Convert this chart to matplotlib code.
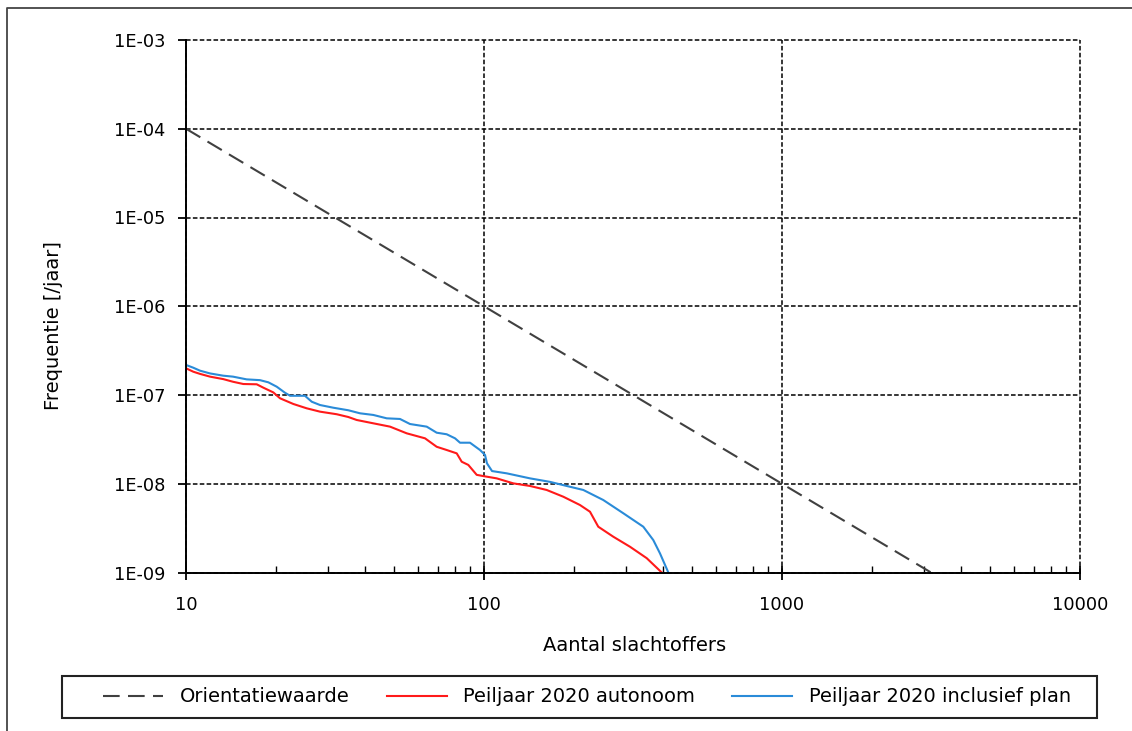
import matplotlib
matplotlib.use("Agg")
import matplotlib.pyplot as plt
import matplotlib.ticker as mticker
from matplotlib.lines import Line2D
from matplotlib.patches import Rectangle
import numpy as np

# Orientatiewaarde: F = 1e-2 / N^2
orient_n = [10, 10000]
orient_f = [1e-4, 1e-10]

# Peiljaar 2020 autonoom
auto_n = [10, 10.58, 11.14, 12.04, 13.34, 14.38, 15.57, 17.27, 18.17, 19.63,
          20.68, 22.92, 25.41, 28.17, 32.05, 35.05, 37.39, 41.44, 48.38, 55.03,
          63.39, 69.38, 74.96, 80.99, 84.19, 88.58, 94.52, 99.47, 110.3, 125.4,
          142.7, 162.3, 184.6, 209.9, 226.8, 241.8, 271.6, 309.0, 351.6, 394.8]
auto_f = [2.0e-7, 1.83e-7, 1.73e-7, 1.61e-7, 1.51e-7, 1.41e-7, 1.33e-7, 1.32e-7, 1.21e-7, 1.07e-7,
          9.18e-8, 7.92e-8, 7.08e-8, 6.49e-8, 6.07e-8, 5.65e-8, 5.23e-8, 4.88e-8, 4.40e-8, 3.70e-8,
          3.25e-8, 2.61e-8, 2.40e-8, 2.20e-8, 1.77e-8, 1.63e-8, 1.26e-8, 1.22e-8, 1.15e-8, 1.01e-8,
          9.44e-9, 8.51e-9, 7.14e-9, 5.76e-9, 4.84e-9, 3.28e-9, 2.53e-9, 1.95e-9, 1.45e-9, 1.0e-9]

# Peiljaar 2020 inclusief plan
plan_n = [10, 10.58, 11.14, 12.04, 13.34, 14.38, 15.98, 17.71, 18.89, 20.16,
          21.49, 22.34, 25.07, 26.42, 28.17, 31.21, 35.05, 38.36, 42.51, 47.16,
          52.25, 56.45, 64.23, 69.38, 74.96, 79.94, 83.09, 89.74, 96.96, 100.8,
          102.3, 106.4, 119.2, 142.7, 166.5, 189.5, 215.4, 251.3, 293.4, 342.4,
          369.9, 389.6, 415.5]
plan_f = [2.18e-7, 2.03e-7, 1.88e-7, 1.75e-7, 1.65e-7, 1.61e-7, 1.50e-7, 1.47e-7, 1.39e-7, 1.24e-7,
          1.06e-7, 9.8e-8, 9.8e-8, 8.4e-8, 7.71e-8, 7.19e-8, 6.73e-8, 6.22e-8, 5.96e-8, 5.46e-8,
          5.37e-8, 4.71e-8, 4.40e-8, 3.76e-8, 3.61e-8, 3.25e-8, 2.90e-8, 2.90e-8, 2.40e-8, 2.11e-8,
          1.70e-8, 1.39e-8, 1.31e-8, 1.15e-8, 1.05e-8, 9.44e-9, 8.51e-9, 6.56e-9, 4.65e-9, 3.28e-9,
          2.32e-9, 1.64e-9, 1.0e-9]

x_ticks = [10, 100, 1000, 10000]
y_ticks = [1e-9, 1e-8, 1e-7, 1e-6, 1e-5, 1e-4, 1e-3]

plt.rcParams['font.family'] = ['DejaVu Sans']
fs_tick = 12.8
fs_lab = 14

W, H = 1132, 731
fig = plt.figure(figsize=(W / 100, H / 100), dpi=100)
ax = fig.add_axes([186 / W, 1 - 572.5 / H, (1080 - 186) / W, (572.5 - 40) / H])

ax.plot(orient_n, orient_f, color='#404040', lw=1.5, dashes=(8, 4), label='Orientatiewaarde')
ax.plot(auto_n, auto_f, color='#ff1a1a', lw=1.5, label='Peiljaar 2020 autonoom')
ax.plot(plan_n, plan_f, color='#2a8bd8', lw=1.5, label='Peiljaar 2020 inclusief plan')

ax.set_xscale('log')
ax.set_yscale('log')
ax.set_xlim(10, 10000)
ax.set_ylim(1e-9, 1e-3)

ax.xaxis.set_major_locator(mticker.FixedLocator(x_ticks))
ax.xaxis.set_major_formatter(mticker.FixedFormatter([str(v) for v in x_ticks]))
ax.xaxis.set_minor_locator(mticker.LogLocator(base=10, subs=np.arange(2, 10)))
ax.xaxis.set_minor_formatter(mticker.NullFormatter())
ax.yaxis.set_major_locator(mticker.FixedLocator(y_ticks))
ax.yaxis.set_major_formatter(mticker.FuncFormatter(lambda v, p: f"1E-{int(round(-np.log10(v))):02d}"))
ax.yaxis.set_minor_locator(mticker.NullLocator())

ax.grid(True, which='major', color='black', lw=1.1, linestyle=(0, (3, 1.5)))
ax.set_axisbelow(True)
for gl in ax.get_xgridlines() + ax.get_ygridlines():
    gl.set_clip_on(False)

for s in ['top', 'right']:
    ax.spines[s].set_visible(False)
for s in ['left', 'bottom']:
    ax.spines[s].set_linewidth(1.4)

ax.tick_params(axis='x', which='major', direction='inout', length=10, width=1.3, pad=12, labelsize=fs_tick)
ax.tick_params(axis='x', which='minor', direction='in', length=5, width=1.0)
ax.tick_params(axis='y', which='major', direction='out', length=6, width=1.3, pad=9, labelsize=fs_tick)

ax.set_xlabel('Aantal slachtoffers', fontsize=fs_lab)
ax.xaxis.set_label_coords((635 - 186) / 894, -(636 - 572.5) / 532.5)
ax.set_ylabel('Frequentie [/jaar]', fontsize=fs_lab)
ax.yaxis.set_label_coords(-(186 - 63) / 894, 1 - (326 - 40) / 532.5)

# legend: frame drawn separately, entries placed as in the reference
fig.add_artist(Rectangle((62 / W, 1 - 718 / H), (1097 - 62) / W, 42 / H,
                         transform=fig.transFigure, fill=False, ec='#222222', lw=1.5))
handles, labels = ax.get_legend_handles_labels()
leg = fig.legend(handles, labels, loc='center left', ncol=3,
                 bbox_to_anchor=(103 / W, 1 - 697 / H),
                 fontsize=fs_lab, frameon=False, handlelength=3.1,
                 handletextpad=0.85, columnspacing=1.9, borderpad=0, borderaxespad=0)

# outer chart frame (only left and top are inside the picture)
fig.add_artist(Line2D([7 / W, 7 / W, 1.0], [0, 1 - 8 / H, 1 - 8 / H],
                      transform=fig.transFigure, color='#444444', lw=1.3))

fig.savefig('out.png', dpi=100)
